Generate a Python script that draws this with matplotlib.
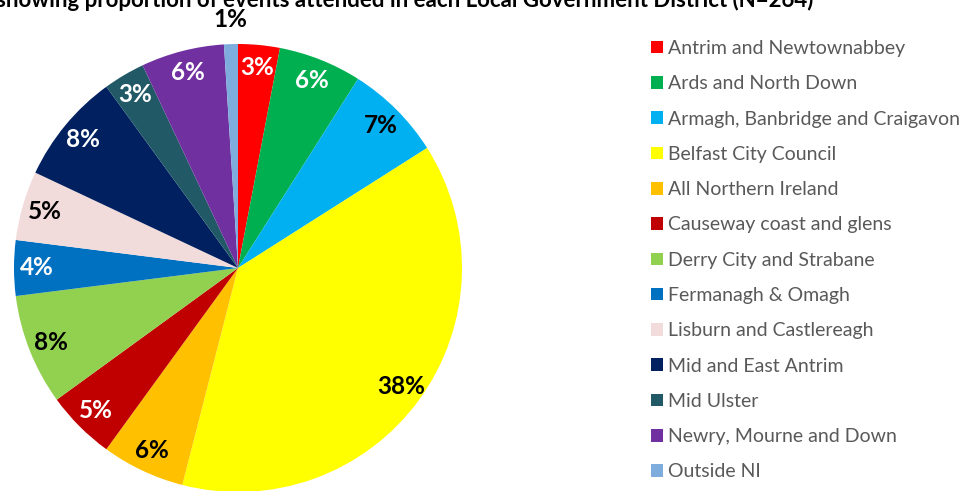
import matplotlib
matplotlib.use('Agg')
import matplotlib.pyplot as plt
from matplotlib.patches import Patch
import numpy as np

plt.rcParams['font.family'] = ['Lato', 'DejaVu Sans']

# districts and share of events attended (%)
districts = ['Antrim and Newtownabbey', 'Ards and North Down',
             'Armagh, Banbridge and Craigavon', 'Belfast City Council',
             'All Northern Ireland', 'Causeway coast and glens',
             'Derry City and Strabane', 'Fermanagh & Omagh',
             'Lisburn and Castlereagh', 'Mid and East Antrim',
             'Mid Ulster', 'Newry, Mourne and Down', 'Outside NI']
shares = [3, 6, 7, 38, 6, 5, 8, 4, 5, 8, 3, 6, 1]
colors = ['#FF0000', '#00B050', '#00B0F0', '#FFFF00', '#FFC000', '#C00000',
          '#92D050', '#0070C0', '#F2DCDB', '#002060', '#215967', '#7030A0',
          '#7EACDD']
label_colors = ['white', 'white', 'black', 'black', 'black', 'white',
                'black', 'white', 'black', 'white', 'white', 'white', 'black']

W, H = 972, 491
fig = plt.figure(figsize=(W / 100, H / 100), dpi=100)

# pie axes: centre (238, 268) px from top-left, radius 224 px
cx, cy, r = 238, 268, 224
ax = fig.add_axes([(cx - r) / W, (H - cy - r) / H, 2 * r / W, 2 * r / H])
wedges, texts, autotexts = ax.pie(
    shares, colors=colors, startangle=90, counterclock=False,
    autopct='%1.0f%%', pctdistance=0.9, radius=1,
    textprops=dict(fontsize=17.5, fontweight='bold'))
ax.set_xlim(-1, 1)
ax.set_ylim(-1, 1)
ax.set_aspect('equal')
ax.axis('off')

for t, c, v in zip(autotexts, label_colors, shares):
    t.set_color(c)
    if v < 2:
        # small slice: label goes outside the pie
        x, y = t.get_position()
        k = 1.11 / np.hypot(x, y)
        t.set_position((x * k, y * k))

# title, clipped at the top edge like the original
fig.text(-0.004, 1 - 7 / H, 'showing proportion of events attended in each Local Government District (N=264)',
         fontsize=16, fontweight='bold', ha='left', va='baseline', color='black')

handles = [Patch(facecolor=c, edgecolor='none') for c in colors]
leg = fig.legend(handles, districts, loc='upper left',
                 bbox_to_anchor=(651 / W, 1 - 40 / H), frameon=False,
                 fontsize=14, handlelength=0.62, handleheight=0.62,
                 handletextpad=0.28, labelspacing=0.94, borderpad=0,
                 borderaxespad=0)
for t in leg.get_texts():
    t.set_color('#595959')

fig.savefig('out.png', dpi=100)
